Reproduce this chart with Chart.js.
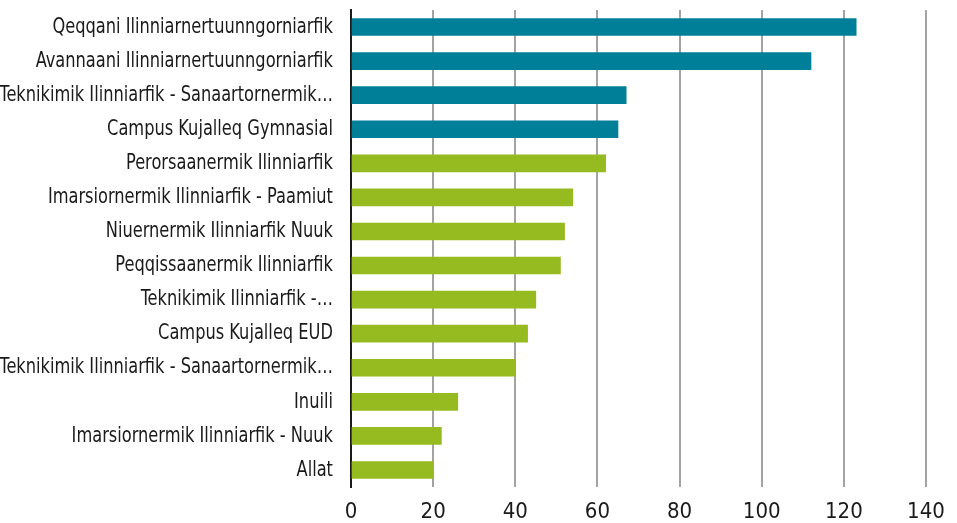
<!DOCTYPE html>
<html>
<head>
<meta charset="utf-8">
<script src="https://cdn.jsdelivr.net/npm/chart.js@4/dist/chart.umd.min.js"></script>
<style>
  html, body { margin: 0; padding: 0; background: #fff; }
  #wrap { width: 957px; height: 523px; }
</style>
</head>
<body>
<div id="wrap"><canvas id="chart"></canvas></div>
<script>
// schools, top to bottom
const schools = [
  "Qeqqani Ilinniarnertuunngorniarfik",
  "Avannaani Ilinniarnertuunngorniarfik",
  "Teknikimik Ilinniarfik - Sanaartornermik…",
  "Campus Kujalleq Gymnasial",
  "Perorsaanermik Ilinniarfik",
  "Imarsiornermik Ilinniarfik - Paamiut",
  "Niuernermik Ilinniarfik Nuuk",
  "Peqqissaanermik Ilinniarfik",
  "Teknikimik Ilinniarfik -…",
  "Campus Kujalleq EUD",
  "Teknikimik Ilinniarfik - Sanaartornermik…",
  "Inuili",
  "Imarsiornermik Ilinniarfik - Nuuk",
  "Allat",
]
const values = [123, 112, 67, 65, 62, 54, 52, 51, 45, 43, 40, 26, 22, 20]
// which group each school belongs to (gymnasium vs. vocational)
const groups = ["gym", "gym", "gym", "gym", "eud", "eud", "eud", "eud", "eud", "eud", "eud", "eud", "eud", "eud"]
const xTicks = [0, 20, 40, 60, 80, 100, 120, 140]

const groupColor = { gym: "#007f98", eud: "#95bb21" }
const font = { family: "'Liberation Sans Narrow', 'DejaVu Sans Condensed', sans-serif", size: 22 }
// no narrow font installed, so squeeze the category labels a bit
const labelSqueeze = 0.82

new Chart(document.getElementById("chart"), {
  type: "bar",
  data: {
    labels: schools,
    datasets: [
      {
        data: values,
        backgroundColor: groups.map((g) => groupColor[g]),
        borderWidth: 0,
        barThickness: 17,
      },
    ],
  },
  options: {
    indexAxis: "y",
    responsive: true,
    maintainAspectRatio: false,
    animation: false,
    layout: { padding: { top: 10, right: 31, bottom: 0, left: 0 } },
    plugins: {
      legend: { display: false },
      tooltip: { enabled: false },
    },
    scales: {
      x: {
        min: 0,
        max: 140,
        afterBuildTicks: (scale) => {
          scale.ticks = xTicks.map((v) => ({ value: v }))
        },
        afterFit: (scale) => {
          scale.height = 36
        },
        border: { display: false },
        grid: { color: "#a3a3a3", lineWidth: 2, drawTicks: false },
        ticks: { color: "#1a1a1a", font: font, padding: 12 },
      },
      y: {
        afterFit: (scale) => {
          scale.width = 351
          scale.paddingTop = 0
          scale.paddingBottom = 0
          if (!scale._squeezed) {
            const drawLabels = scale.drawLabels.bind(scale)
            // the label clip box would be squeezed too, so drop it
            scale._computeLabelArea = () => undefined
            scale.drawLabels = (area) => {
              const ctx = scale.ctx
              ctx.save()
              ctx.translate(scale.right, 0)
              ctx.scale(labelSqueeze, 1)
              ctx.translate(-scale.right, 0)
              drawLabels(area)
              ctx.restore()
            }
            scale._squeezed = true
          }
        },
        border: { display: true, color: "#1a1a1a", width: 2 },
        grid: { display: false, drawTicks: false },
        ticks: { color: "#1a1a1a", font: font, padding: 22, autoSkip: false },
      },
    },
  },
})
</script>
</body>
</html>
